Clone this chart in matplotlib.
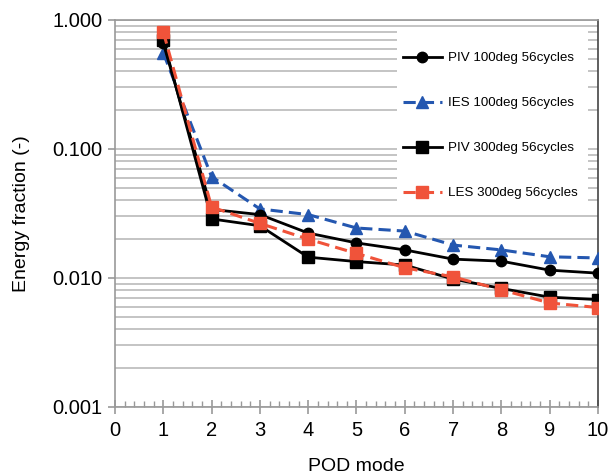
import matplotlib
matplotlib.use("Agg")
import matplotlib.pyplot as plt
from matplotlib.patches import Rectangle
from matplotlib.ticker import LogLocator, FixedLocator, FormatStrFormatter, NullFormatter, MultipleLocator

plt.rcParams['font.family'] = ['Liberation Sans', 'DejaVu Sans']

modes = [1, 2, 3, 4, 5, 6, 7, 8, 9, 10]
piv_100 = [0.66, 0.034, 0.031, 0.0223, 0.0187, 0.0165, 0.0140, 0.0135, 0.0115, 0.0109]
ies_100 = [0.555, 0.061, 0.0343, 0.031, 0.0244, 0.0231, 0.0180, 0.0165, 0.0146, 0.0143]
piv_300 = [0.70, 0.0287, 0.0254, 0.0145, 0.0134, 0.0126, 0.0098, 0.0083, 0.0071, 0.0068]
les_300 = [0.81, 0.0355, 0.0265, 0.0200, 0.0155, 0.0120, 0.0102, 0.0081, 0.0064, 0.0059]
labels = ['PIV 100deg 56cycles', 'IES 100deg 56cycles', 'PIV 300deg 56cycles', 'LES 300deg 56cycles']
x_ticks = list(range(0, 11))
y_ticks = [0.001, 0.01, 0.1, 1.0]

fig = plt.figure(figsize=(6.13, 4.76), dpi=100)
ax = fig.add_axes([0.1876, 0.145, 0.7879, 0.813])

blue = '#2457b0'
orange = '#f0533a'

ax.plot(modes, piv_100, color='black', lw=2.0, marker='o', ms=7.5, label=labels[0], zorder=5)
ax.plot(modes, ies_100, color=blue, lw=2.2, ls=(0, (4, 2)), marker='^', ms=8.5, label=labels[1], zorder=4)
ax.plot(modes, piv_300, color='black', lw=2.0, marker='s', ms=8, label=labels[2], zorder=5)
ax.plot(modes, les_300, color=orange, lw=2.2, ls=(0, (4, 2)), marker='s', ms=9, label=labels[3], zorder=6)

ax.set_yscale('log')
ax.set_ylim(0.001, 1.0)
ax.set_xlim(0, 10)
ax.yaxis.set_major_locator(FixedLocator(y_ticks))
ax.yaxis.set_major_formatter(FormatStrFormatter('%.3f'))
ax.yaxis.set_minor_locator(LogLocator(base=10, subs=range(2, 10)))
ax.yaxis.set_minor_formatter(NullFormatter())
ax.xaxis.set_major_locator(FixedLocator(x_ticks))
ax.xaxis.set_minor_locator(MultipleLocator(0.2))

ax.grid(True, which='both', axis='y', color='#b4b4b4', lw=1.1)
ax.set_axisbelow(True)

for s in ['left', 'bottom', 'top']:
    ax.spines[s].set_color('#999999')
    ax.spines[s].set_linewidth(1.2)
ax.spines['right'].set_color('#444444')
ax.spines['right'].set_linewidth(1.2)

ax.tick_params(axis='y', which='major', direction='out', length=5, color='#999999', width=1.2, labelsize=14.5, pad=4)
ax.tick_params(axis='y', which='minor', length=0)
ax.tick_params(axis='x', which='major', direction='inout', length=10, color='#999999', width=1.2, labelsize=14.5, pad=5)
ax.tick_params(axis='x', which='minor', direction='in', length=4, color='#999999', width=1.0)

ax.set_xlabel('POD mode', fontsize=14, labelpad=13)
ax.set_ylabel('Energy fraction (-)', fontsize=14, labelpad=16)

# white legend background box
ax.add_patch(Rectangle((0.584, 0.501), 0.395, 0.473, transform=ax.transAxes,
                       facecolor='white', edgecolor='none', zorder=3))

leg = ax.legend(loc='upper left', bbox_to_anchor=(0.596, 0.917), fontsize=9.6, frameon=False,
                labelspacing=2.45, handlelength=2.9, handletextpad=0.5, borderpad=0, borderaxespad=0)
leg.set_zorder(10)

fig.savefig('out.png', dpi=100)
